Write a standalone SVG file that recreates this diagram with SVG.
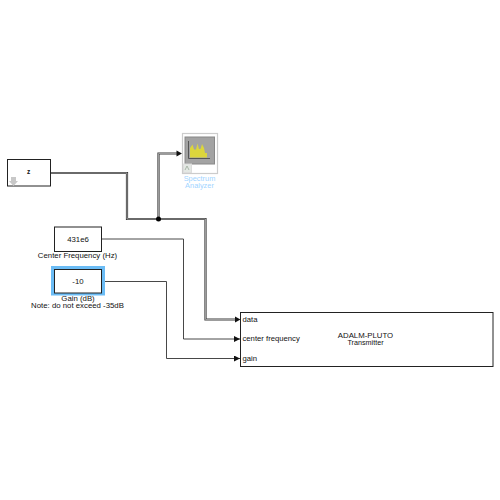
<svg xmlns="http://www.w3.org/2000/svg" width="500" height="500" viewBox="0 0 500 500">
<style>
text{font-family:"Liberation Sans",Arial,sans-serif;font-size:7.8px;fill:#111;text-anchor:middle}
.b{fill:#fff;stroke:#222;stroke-width:1}
.bus{fill:none;stroke:#3a3a3a;stroke-width:2.2}
.busi{fill:none;stroke:#b4b4b4;stroke-width:.8}
.w{fill:none;stroke:#333;stroke-width:.9}
.port{text-anchor:start;font-size:7.7px}
</style>
<defs>
<marker id="a" markerUnits="userSpaceOnUse" markerWidth="7" markerHeight="6" refX="6" refY="3" orient="auto"><path d="M0 0L6 3L0 6Z" fill="#111"/></marker>
</defs>
<rect width="500" height="500" fill="#fff"/>
<g id="connectors">
<path class="bus" d="M50.500 173H127V219H205.500V319.500H235"/>
<path class="bus" d="M158.500 219V153.500H178"/>
<path class="busi" d="M50.500 173H127V219H205.500V319.500H235"/>
<path class="busi" d="M158.500 219V153.500H178"/>
<path d="M176.500 150.500L182 153.500L176.500 156.500Z" fill="#111"/>
<path d="M235 316.500L240.500 319.500L235 322.500Z" fill="#111"/>
<circle cx="158.500" cy="219" r="2.500" fill="#000"/>
<path class="w" d="M101.500 239H183.500V339H240" marker-end="url(#a)"/>
<path class="w" d="M101.500 281.500H166.500V358.500H240" marker-end="url(#a)"/>
</g>
<g id="source-z">
<rect class="b" x="7.500" y="159.500" width="43" height="26.500"/>
<text x="28.500" y="174" font-weight="bold" style="font-size:6.500px">z</text>
<path d="M11 177H16V181H18L13.500 186L9 181H11Z" fill="#c8c8c8"/>
</g>
<g id="spectrum-analyzer">
<rect x="182.500" y="133.500" width="35" height="40" fill="#fff" stroke="#ccc" stroke-width="1.200"/>
<rect x="185" y="137" width="29.500" height="27" fill="#a3a3a3" stroke="#888"/>
<path d="M188.500 141V158.500H210" fill="none" stroke="#555" stroke-width="1"/>
<path d="M190 157.500V148L192.500 144.500L194 149.500H196L197.500 143.500L199 149H200.500L202 144L204 148L205 153H207V157.500Z" fill="#dcd63c"/>
<rect x="183.500" y="164" width="8" height="8.500" fill="#e4e8e4" stroke="#ddd"/>
<path d="M185 170L187 166L189 170" fill="none" stroke="#9a9" stroke-width=".8"/>
<text x="199.500" y="180.500" style="fill:#9fd4ff;font-size:7.400px">Spectrum</text>
<text x="199.500" y="188" style="fill:#9fd4ff;font-size:7.400px">Analyzer</text>
</g>
<g id="center-frequency">
<rect class="b" x="54.500" y="227" width="47" height="24.500"/>
<text x="78" y="241.500">431e6</text>
<text x="77.500" y="258">Center Frequency (Hz)</text>
</g>
<g id="gain">
<rect x="51" y="266" width="54" height="29.500" fill="#6bbcf5"/>
<rect class="b" x="54.500" y="269.500" width="47" height="23.500"/>
<text x="78" y="283.500">-10</text>
<text x="78" y="300.500">Gain (dB)</text>
<text x="77.500" y="308">Note: do not exceed -35dB</text>
</g>
<g id="transmitter">
<rect class="b" x="240.500" y="312.500" width="252.500" height="54"/>
<text class="port" x="242.500" y="321.500">data</text>
<text class="port" x="242.500" y="340.500">center frequency</text>
<text class="port" x="242.500" y="360.500">gain</text>
<text x="365.500" y="337.500" style="font-size:7.800px">ADALM-PLUTO</text>
<text x="365.500" y="345" style="font-size:7.200px">Transmitter</text>
</g>
</svg>
